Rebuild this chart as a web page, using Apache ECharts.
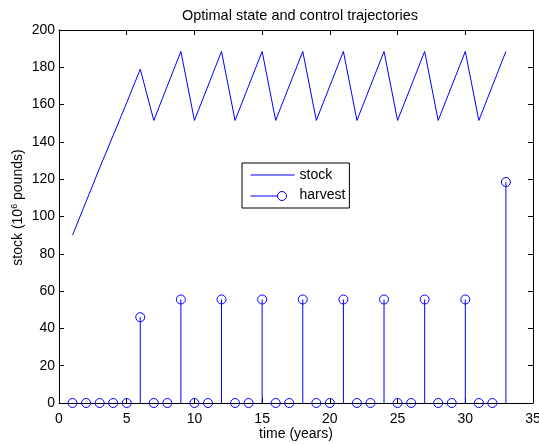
<!DOCTYPE html>
<html>
<head>
<meta charset="utf-8">
<script src="https://cdn.jsdelivr.net/npm/echarts@6/dist/echarts.min.js"></script>
<style>
html,body{margin:0;padding:0;background:#fff;}
#chart{width:539px;height:444px;}
</style>
</head>
<body>
<div id="chart"></div>
<script>
var years = [1,2,3,4,5,6,7,8,9,10,11,12,13,14,15,16,17,18,19,20,21,22,23,24,25,26,27,28,29,30,31,32,33];
var stock = [90,108,126,143.5,161,179,151.5,170,188.5,151.5,170,188.5,151.5,170,188.5,151.5,170,188.5,151.5,170,188.5,151.5,170,188.5,151.5,170,188.5,151.5,170,188.5,151.5,170,188.5];
var harvest = [0,0,0,0,0,46,0,0,55.5,0,0,55.5,0,0,55.5,0,0,55.5,0,0,55.5,0,0,55.5,0,0,55.5,0,0,55.5,0,0,118.5];
var xTicks = [0,5,10,15,20,25,30,35];
var yTicks = [0,20,40,60,80,100,120,140,160,180,200];

var FONT = 'Liberation Sans, Arial, sans-serif';
var BLUE = '#0000ff';
var chart = echarts.init(document.getElementById('chart'), null, {renderer:'canvas'});

var stockData = years.map(function(y,i){return [y, stock[i]];});
var harvestData = years.map(function(y,i){return [y, harvest[i]];});

function axisCommon(){
  return {
    axisLine:{show:true,onZero:false,lineStyle:{color:'#000',width:1}},
    axisTick:{show:true,inside:true,length:5,lineStyle:{color:'#000'}},
    splitLine:{show:false}
  };
}

var option = {
  backgroundColor:'#fff',
  animation:false,
  title:{
    text:'Optimal state and control trajectories',
    left:295, top:3, textAlign:'center',
    textStyle:{fontFamily:FONT,fontSize:14.5,fontWeight:'normal',color:'#000'}
  },
  legend:{
    left:242, top:163,
    orient:'vertical',
    padding:[5,4,5,6],
    itemGap:6,
    itemWidth:44, itemHeight:10,
    borderColor:'#000', borderWidth:1,
    backgroundColor:'#fff',
    lineStyle:{color:BLUE,width:1},
    textStyle:{fontFamily:FONT,fontSize:14,color:'#000'},
    data:[
      {name:'stock', icon:'path://M0,0M44,10M0,4.5H44V5.5H0Z',
       itemStyle:{color:BLUE,borderWidth:0},
       lineStyle:{color:BLUE,width:1}},
      {name:'harvest', icon:'path://M0,0M44,10M0,5.5H27M27,5.5A4.5,4.5 0 1 1 36,5.5A4.5,4.5 0 1 1 27,5.5',
       itemStyle:{color:'none',borderColor:BLUE,borderWidth:1}}
    ]
  },
  grid:{left:59,right:6,top:30,bottom:41,containLabel:false,outerBoundsMode:'none'},
  xAxis:[
    Object.assign(axisCommon(),{
      type:'value',min:0,max:35,interval:5,position:'bottom',
      name:'time (years)',nameLocation:'middle',nameGap:24,nameMoveOverlap:false,
      nameTextStyle:{fontFamily:FONT,fontSize:14,color:'#000'},
      axisLabel:{fontFamily:FONT,fontSize:14,color:'#000',margin:9}
    }),
    Object.assign(axisCommon(),{
      type:'value',min:0,max:35,interval:5,position:'top',
      axisLabel:{show:false}
    })
  ],
  yAxis:[
    Object.assign(axisCommon(),{
      type:'value',min:0,max:200,interval:20,position:'left',
      name:'{a|stock (10}{s|6}{a| pounds)}',nameLocation:'middle',nameGap:33,nameMoveOverlap:false,
      nameTextStyle:{padding:[0,0,0,18],rich:{
        a:{fontFamily:FONT,fontSize:14,color:'#000'},
        s:{fontFamily:FONT,fontSize:9,color:'#000',verticalAlign:'top',padding:[0,0,7,0]}
      }},
      axisLabel:{fontFamily:FONT,fontSize:14,color:'#000',margin:4}
    }),
    Object.assign(axisCommon(),{
      type:'value',min:0,max:200,interval:20,position:'right',
      axisLabel:{show:false}
    })
  ],
  series:[
    {
      name:'stock', type:'line', data:stockData,
      showSymbol:false, symbol:'none',
      lineStyle:{color:BLUE,width:1},
      itemStyle:{color:BLUE},
      z:3
    },
    {
      name:'harvest', type:'custom', data:harvestData, clip:false,
      itemStyle:{color:BLUE},
      z:4,
      renderItem:function(params, api){
        var x = api.value(0), y = api.value(1);
        var p0 = api.coord([x,0]), p1 = api.coord([x,y]);
        return {type:'group', children:[
          {type:'line', shape:{x1:p0[0],y1:p0[1],x2:p1[0],y2:p1[1]},
           style:{stroke:BLUE,lineWidth:1,fill:null}},
          {type:'circle', shape:{cx:p1[0],cy:p1[1],r:4.5},
           style:{fill:'none',stroke:BLUE,lineWidth:1}}
        ]};
      }
    }
  ]
};
chart.setOption(option);
</script>
</body>
</html>
